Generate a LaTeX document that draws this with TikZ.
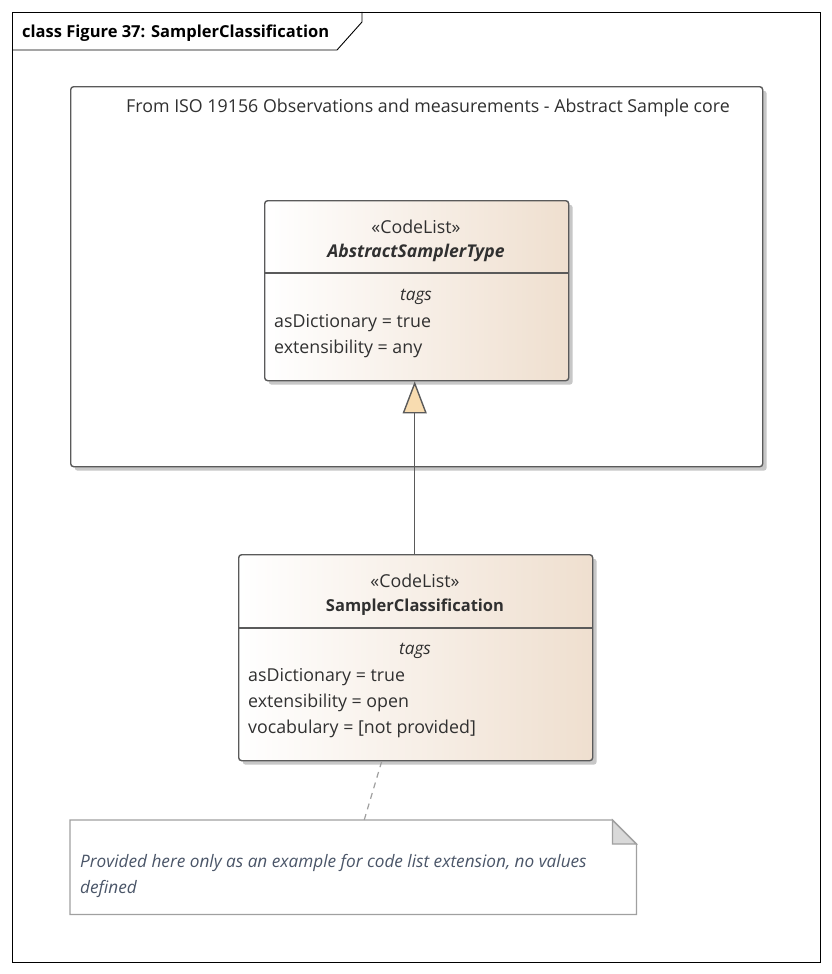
\documentclass[tikz,border=0pt]{standalone}
\usepackage{fontspec}
\setmainfont{Open Sans}
\usetikzlibrary{shadows,arrows.meta,calc}
\definecolor{bord}{HTML}{5A5A5A}
\definecolor{tanr}{HTML}{EFDFCF}
\definecolor{tanl}{HTML}{FFFFFF}
\definecolor{arrowfill}{HTML}{F8DCB0}
\definecolor{notebord}{HTML}{A0A0A0}
\definecolor{notetext}{HTML}{4A5568}
\definecolor{txt}{HTML}{303030}
\tikzset{
  shad/.style={drop shadow={shadow xshift=4pt, shadow yshift=-4pt, fill=black!22, opacity=1}},
  pkgbox/.style={draw=bord, line width=1.4pt, rounded corners=3pt, fill=white, shad},
  classbox/.style={draw=bord, line width=1.4pt, rounded corners=3pt, left color=tanl, right color=tanr, shad},
  divider/.style={draw=bord, line width=1.4pt},
  lbl/.style={font=\fontsize{17.8}{20}\selectfont, text=txt, inner sep=0pt, yshift=-2pt},
  lblb/.style={font=\fontsize{16.5}{20}\selectfont\bfseries, text=txt, inner sep=0pt, yshift=-2pt},
  lblbi/.style={font=\fontsize{17.6}{20}\selectfont\bfseries\itshape, text=txt, inner sep=0pt, yshift=-2pt},
  lbli/.style={font=\fontsize{17.2}{20}\selectfont\itshape, text=txt, inner sep=0pt, yshift=-2pt},
  gen/.style={draw=bord, line width=1.4pt, -{Triangle[length=32pt, width=24pt, fill=arrowfill, line join=miter]}},
  notelink/.style={draw=notebord, line width=1.2pt, dash pattern=on 6pt off 5pt},
  notebox/.style={draw=notebord, line width=1.3pt, fill=white},
  notelbl/.style={font=\fontsize{17.2}{20}\selectfont\itshape, text=notetext, inner sep=0pt, anchor=west, yshift=-2pt}
}
\begin{document}
\begin{tikzpicture}[x=1pt,y=-1pt]
\useasboundingbox (0,0) rectangle (832,974);
\fill[white] (0,0) rectangle (832,974);
% frame
\node[draw=black, line width=0.9pt, minimum width=808, minimum height=950, anchor=north west, inner sep=0pt] (frame) at (12,12) {};
\draw[black, line width=0.9pt] (12,50) -- (337,50) -- (362,22) -- (362,12);
\node[lblb, text=black, anchor=west] (title) at (22,31) {class Figure 37: SamplerClassification};
% package
\node[pkgbox, minimum width=692, minimum height=380, anchor=north west, inner sep=0pt] (pkg) at (70,86) {};
\node[lbl] (pkgname) at (428,106) {From ISO 19156 Observations and measurements - Abstract Sample core};
% abstract class
\node[classbox, minimum width=304, minimum height=180, anchor=north west, inner sep=0pt] (abs) at (264,200) {};
\draw[divider] (abs.west |- 0,273) -- (abs.east |- 0,273);
\node[lbl] (absst) at (416,225) {«CodeList»};
\node[lblbi] (absname) at (416,251) {AbstractSamplerType};
\node[lbli] (abstags) at (416,295) {tags};
\node[lbl, anchor=west] (absa) at (274,321) {asDictionary = true};
\node[lbl, anchor=west] (absb) at (274,347) {extensibility = any};
% sampler classification
\node[classbox, minimum width=354, minimum height=206, anchor=north west, inner sep=0pt] (sc) at (238,554) {};
\draw[divider] (sc.west |- 0,628) -- (sc.east |- 0,628);
\node[lbl] (scst) at (415,579) {«CodeList»};
\node[lblb] (scname) at (415,605) {SamplerClassification};
\node[lbli] (sctags) at (415,649) {tags};
\node[lbl, anchor=west] (sca) at (248,675) {asDictionary = true};
\node[lbl, anchor=west] (scb) at (248,701) {extensibility = open};
\node[lbl, anchor=west] (scc) at (248,727) {vocabulary = [not provided]};
% generalization
\draw[gen] ([xshift=-1pt]sc.north) -- ([xshift=-1pt]sc.north |- abs.south);
% note
\node[minimum width=566, minimum height=94, anchor=north west, inner sep=0pt] (note) at (70,820) {};
\draw[notebox] (note.north west) -- ([xshift=-24pt]note.north east) -- ([yshift=-24pt]note.north east) -- (note.south east) -- (note.south west) -- cycle;
\draw[notebox, fill=black!15, line join=miter] ([xshift=-24pt]note.north east) -- ([xshift=-24pt,yshift=-24pt]note.north east) -- ([yshift=-24pt]note.north east) -- cycle;
\node[notelbl] (notea) at (80,861) {Provided here only as an example for code list extension, no values};
\node[notelbl] (noteb) at (80,887) {defined};
\draw[notelink] ([xshift=-34pt]sc.south) -- ([xshift=11pt]note.north);
\end{tikzpicture}
\end{document}
